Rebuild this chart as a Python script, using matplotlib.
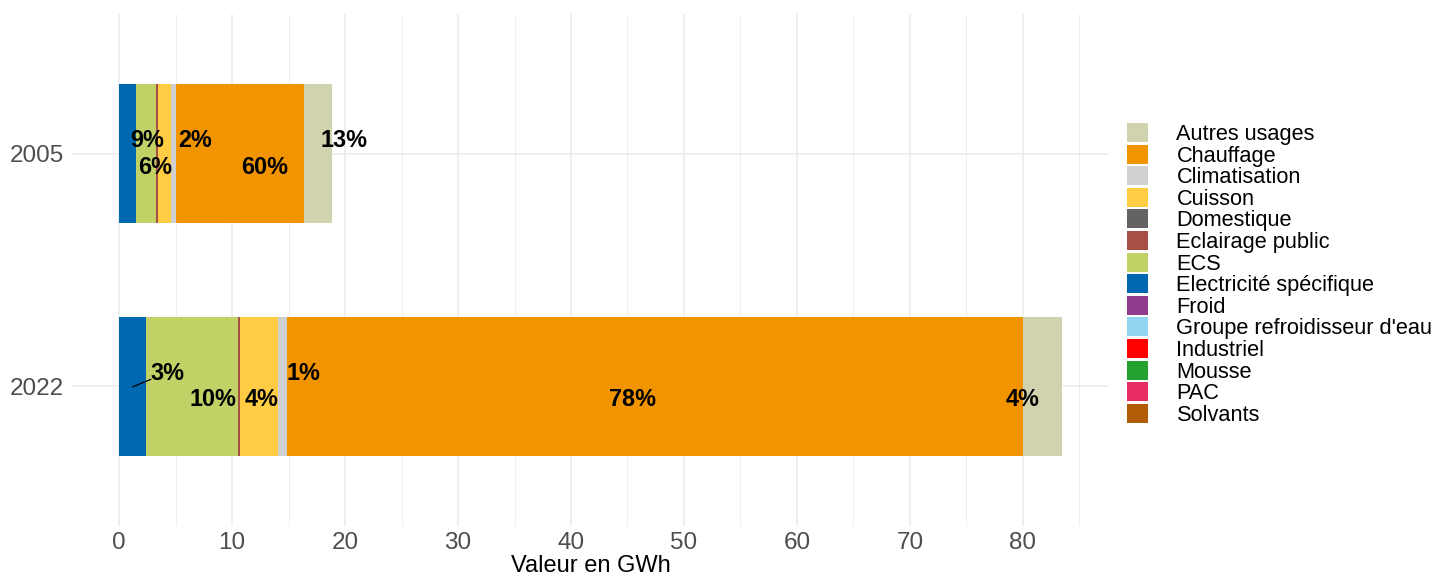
import matplotlib
matplotlib.use("Agg")
import matplotlib.pyplot as plt
from matplotlib.patches import Patch
import numpy as np

plt.rcParams['font.family'] = ['Liberation Sans', 'DejaVu Sans']

years = ["2005", "2022"]
# stacking order from left to right (ggplot reverse of legend order)
usages = ["Solvants", "PAC", "Mousse", "Industriel", "Groupe refroidisseur d'eau",
          "Froid", "Electricité spécifique", "ECS", "Eclairage public", "Domestique",
          "Cuisson", "Climatisation", "Chauffage", "Autres usages"]
values_2005 = [0, 0, 0, 0, 0, 0, 1.50, 1.75, 0.18, 0, 1.20, 0.37, 11.40, 2.45]
values_2022 = [0, 0, 0, 0, 0, 0, 2.40, 8.15, 0.15, 0, 3.35, 0.80, 65.20, 3.40]
colors = {
    "Autres usages": "#D0D3AD",
    "Chauffage": "#F29400",
    "Climatisation": "#D0D0D0",
    "Cuisson": "#FFCC44",
    "Domestique": "#636363",
    "Eclairage public": "#A84F45",
    "ECS": "#C2D166",
    "Electricité spécifique": "#0068B0",
    "Froid": "#8F3A8A",
    "Groupe refroidisseur d'eau": "#92D3F0",
    "Industriel": "#FF0000",
    "Mousse": "#24A12E",
    "PAC": "#E62C63",
    "Solvants": "#B25C05",
}
legend_order = ["Autres usages", "Chauffage", "Climatisation", "Cuisson", "Domestique",
                "Eclairage public", "ECS", "Electricité spécifique", "Froid",
                "Groupe refroidisseur d'eau", "Industriel", "Mousse", "PAC", "Solvants"]

# labelled segments: (usage, nudge in GWh, vertical side: -1 above centre, +1 below)
labels_2005 = [("ECS", 0.1, -1), ("Cuisson", -0.85, 1), ("Climatisation", 1.95, -1),
               ("Chauffage", 2.2, 1), ("Autres usages", 2.3, -1)]
labels_2022 = [("Electricité spécifique", 3.1, -1), ("ECS", 1.8, 1), ("Cuisson", 0.2, 1),
               ("Climatisation", 1.85, -1), ("Chauffage", -2.0, 1), ("Autres usages", -1.8, 1)]

fig = plt.figure(figsize=(14.37, 5.76), dpi=100)
ax = fig.add_axes([72/1437, 50/576, (1109-72)/1437, (562-50)/576])

ypos = {"2005": 1, "2022": 2}
bar_h = 0.6
for year, vals, labs in [("2005", values_2005, labels_2005), ("2022", values_2022, labels_2022)]:
    y = ypos[year]
    left = 0.0
    mids = {}
    total = sum(vals)
    for u, v in zip(usages, vals):
        if v > 0:
            ax.barh(y, v, left=left, height=bar_h, color=colors[u], edgecolor='none', zorder=2)
        mids[u] = (left + v / 2, v)
        left += v
    for u, dx, side in labs:
        mx, v = mids[u]
        pct = f"{round(100 * v / total):.0f}%"
        ty = y + (-0.055 if side < 0 else 0.058)
        ax.text(mx + dx, ty, pct, ha='center', va='center', fontsize=16.8,
                fontweight='bold', color='black', zorder=4)
        if u == "Electricité spécifique":
            ax.plot([mx, mx + dx - 1.5], [y + 0.002, y - 0.03], color='black', lw=0.9, zorder=3)

total_max = max(sum(values_2005), sum(values_2022))
ax.set_xlim(-0.05 * total_max, total_max * 1.05)
ax.set_ylim(2.6, 0.4)
ax.set_yticks([1, 2])
ax.set_yticklabels(years)
ax.set_xticks(np.arange(0, 81, 10))
ax.set_xticks(np.arange(5, 86, 10), minor=True)
ax.grid(True, which='major', color='#EBEBEB', lw=1.1, zorder=0)
ax.grid(True, which='minor', axis='x', color='#EBEBEB', lw=0.6, zorder=0)
ax.set_axisbelow(True)
for s in ax.spines.values():
    s.set_visible(False)
ax.tick_params(axis='both', which='both', length=0, labelsize=17.5, labelcolor='#4D4D4D')
ax.tick_params(axis='x', pad=4)
ax.tick_params(axis='y', pad=6)
ax.set_xlabel("Valeur en GWh", fontsize=17, color='black', labelpad=1)

handles = [Patch(facecolor=colors[u], edgecolor='none', label=u) for u in legend_order]
fig.legend(handles=handles, loc='upper left', bbox_to_anchor=(1127/1437, 1 - 123/576),
           frameon=False, fontsize=15.7, handlelength=0.97, handleheight=0.97,
           labelspacing=-0.02, handletextpad=1.3, borderaxespad=0, borderpad=0)

fig.savefig("out.png", dpi=100)
